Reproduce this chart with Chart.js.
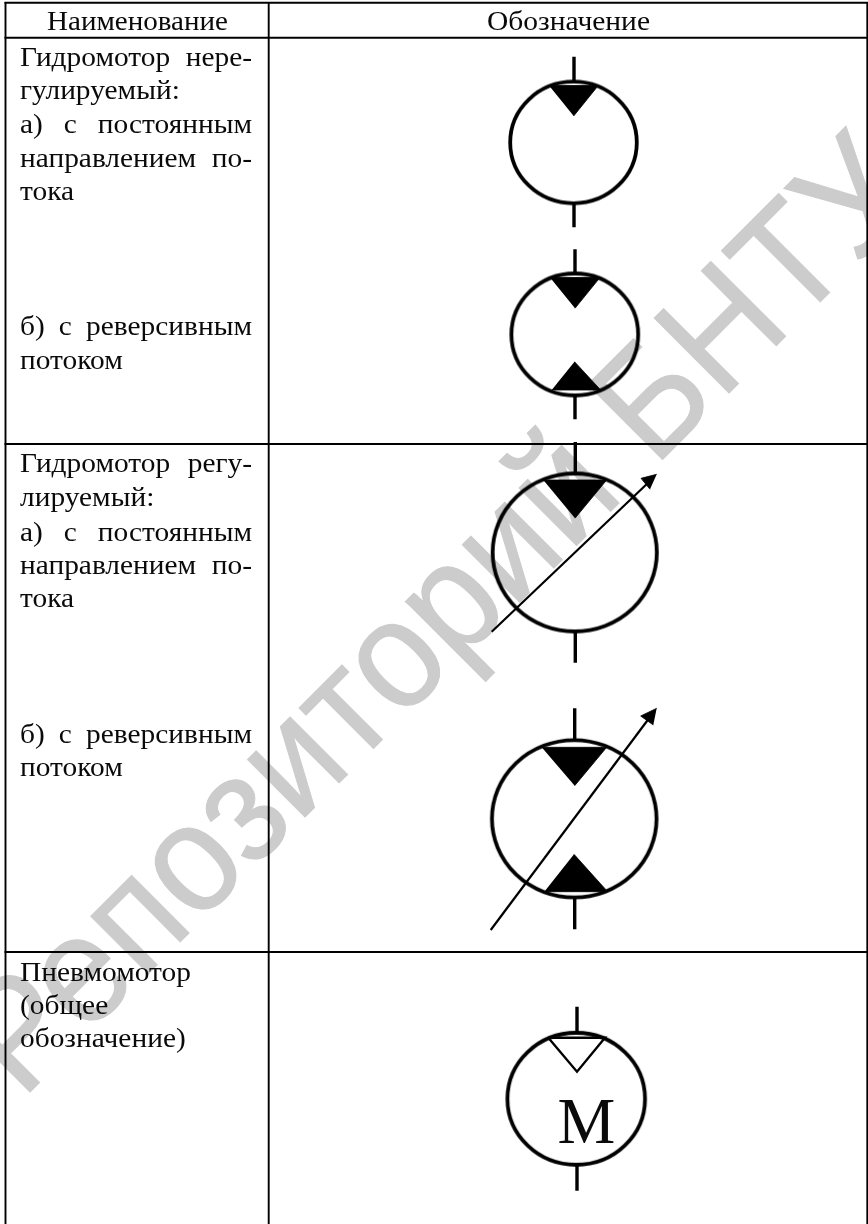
<!DOCTYPE html>
<html lang="ru">
<head>
<meta charset="utf-8">
<style>html,body{margin:0;padding:0;background:#fff}#wrap{position:absolute;left:0;top:0;width:868px;height:1224px}</style>
<script src="https://cdn.jsdelivr.net/npm/chart.js@4"></script>
</head>
<body>
<div id="wrap"><canvas id="c" width="868" height="1224"></canvas></div>
<script>
// table rules
const tableRules = [
  [[4.5,2.8],[868,2.8]], [[4.5,37.7],[868,37.7]], [[4.5,444],[868,444]], [[4.5,952],[868,952]],
  [[5.5,2],[5.5,1224]], [[268.7,2],[268.7,1224]], [[867.3,2],[867.3,1224]]
];
// motor outlines: centre x, centre y, semi-axes
const motorCentres = [[573.5,142.5],[574.8,334.5],[574.7,552.5],[574.2,818.8],[576.2,1098.8]];
const motorSemiAxes = [[63.3,60.8],[63.4,61],[82.1,79],[82.3,78.7],[68.8,66]];
// stems above and below each motor
const stems = [
  [[574,56.7],[574,81]], [[574,204],[574,227.3]],
  [[575,249.3],[575,273]], [[575,396],[575,419.3]],
  [[575.3,442],[575.3,473]], [[575.3,632],[575.3,662.7]],
  [[574.7,708.3],[574.7,739]], [[574.7,898],[574.7,929.3]],
  [[577,1006.7],[577,1032]], [[577,1165],[577,1190.7]]
];
// filled flow triangles
const filledTriangles = [
  [[549,85.5],[598.3,85.5],[573.7,116]],
  [[550,277.5],[600,277.5],[575,308.3]],
  [[551.7,390],[600.7,390],[574.5,361.7]],
  [[543.3,480],[606.7,480],[575,518.3]],
  [[541.7,747.3],[606.7,747.3],[574.7,785.7]],
  [[544.3,891.7],[607.7,891.7],[574,854.3]]
];
// open triangle of the pneumatic motor
const openTriangle = [[548.3,1037.7],[605,1037.7],[577,1071.7],[548.3,1037.7]];
// adjustment arrows
const arrowShafts = [[[491.7,631.7],[650,481]], [[490.7,930],[650,717]]];
const arrowHeads = [
  [[656.7,474.3],[641,478.3],[650,489.3]],
  [[656.7,708.3],[640.7,716],[653.3,725]]
];
// text: string, left, right (null = natural width), baseline
const cellLines = [
  ['Наименование',47,228,30],
  ['Обозначение',487,650,30],
  ['Гидромотор нере-',20,252,65.7],
  ['гулируемый:',20,null,98.7],
  ['а) с постоянным',20,252,133],
  ['направлением по-',20,252,166.7],
  ['тока',20,null,200],
  ['б) с реверсивным',20,252,335],
  ['потоком',20,null,369],
  ['Гидромотор регу-',20,252,471.7],
  ['лируемый:',20,null,506],
  ['а) с постоянным',20,252,541],
  ['направлением по-',20,252,574.3],
  ['тока',20,null,606.7],
  ['б) с реверсивным',20,252,742.7],
  ['потоком',20,null,776.3],
  ['Пневмомотор',20,null,980.5],
  ['(общее',20,null,1013.5],
  ['обозначение)',20,null,1047]
];
const motorLetter = ['М',586.3,1143.3];
const watermarkText = 'Репозиторий БНТУ';
const watermarkAnchor = [21.8,1100.2];

const black = '#000';
const ellipseSprite = ([rx,ry]) => {
  const lw = 3.8, s = document.createElement('canvas');
  s.width = Math.ceil(rx*2+lw+4); s.height = Math.ceil(ry*2+lw+4);
  const g = s.getContext('2d');
  g.lineWidth = lw; g.strokeStyle = black;
  g.beginPath(); g.ellipse(s.width/2,s.height/2,rx,ry,0,0,Math.PI*2); g.stroke();
  return s;
};
const pts = a => a.map(([x,y]) => ({x,y}));
const lineSet = (p,w) => ({type:'line',data:pts(p),borderColor:black,borderWidth:w,pointRadius:0,fill:false,tension:0,borderCapStyle:'butt'});
const shapeSet = p => ({type:'line',data:pts(p),borderColor:black,borderWidth:0.8,backgroundColor:black,pointRadius:0,fill:'shape',tension:0});

const datasets = [
  {type:'scatter',data:pts(motorCentres),pointStyle:motorSemiAxes.map(ellipseSprite),showLine:false,pointRadius:10,backgroundColor:black,borderColor:black},
  ...tableRules.map(r => lineSet(r,1.9)),
  ...stems.map(r => lineSet(r,3.4)),
  ...filledTriangles.map(shapeSet),
  lineSet(openTriangle,2.4),
  ...arrowShafts.map(r => lineSet(r,2.2)),
  ...arrowHeads.map(shapeSet)
];

const textPlugin = {
  id:'pageText',
  beforeDatasetsDraw(ch){
    const {ctx,scales:{x,y}} = ch;
    ctx.save();
    ctx.font = '150px "Liberation Sans"';
    ctx.fillStyle = '#cccccc';
    ctx.strokeStyle = '#cccccc';
    ctx.lineWidth = 1;
    ctx.textBaseline = 'alphabetic';
    ctx.setTransform(0.676,-0.676,0.726,0.726,x.getPixelForValue(watermarkAnchor[0]),y.getPixelForValue(watermarkAnchor[1]));
    ctx.fillText(watermarkText,0,0);
    ctx.strokeText(watermarkText,0,0);
    ctx.restore();
  },
  afterDatasetsDraw(ch){
    const {ctx,scales:{x,y}} = ch;
    ctx.save();
    ctx.fillStyle = '#0a0a0a';
    ctx.textBaseline = 'alphabetic';
    ctx.textAlign = 'left';
    ctx.font = '28px "Liberation Serif"';
    const sx = 1.05;
    for (const [t,l,r,b] of cellLines) {
      ctx.wordSpacing = '0px';
      const gaps = t.split(' ').length-1, w = ctx.measureText(t).width;
      let k = sx;
      if (r !== null) {
        if (gaps>0) ctx.wordSpacing = ((r-l)/sx-w)/gaps+'px';
        else k = (r-l)/w;
      }
      ctx.save();
      ctx.translate(x.getPixelForValue(l),y.getPixelForValue(b));
      ctx.scale(k,1);
      ctx.fillText(t,0,0);
      ctx.restore();
    }
    ctx.wordSpacing = '0px';
    ctx.font = '65px "Liberation Serif"';
    ctx.textAlign = 'center';
    ctx.fillText(motorLetter[0],x.getPixelForValue(motorLetter[1]),y.getPixelForValue(motorLetter[2]));
    ctx.restore();
  }
};

new Chart(document.getElementById('c'),{
  type:'scatter',
  data:{datasets},
  plugins:[textPlugin],
  options:{
    responsive:false,animation:false,
    layout:{padding:0,autoPadding:false},
    plugins:{legend:{display:false},tooltip:{enabled:false}},
    scales:{
      x:{type:'linear',min:0,max:868,display:false},
      y:{type:'linear',min:0,max:1224,reverse:true,display:false}
    }
  }
});
</script>
</body>
</html>
